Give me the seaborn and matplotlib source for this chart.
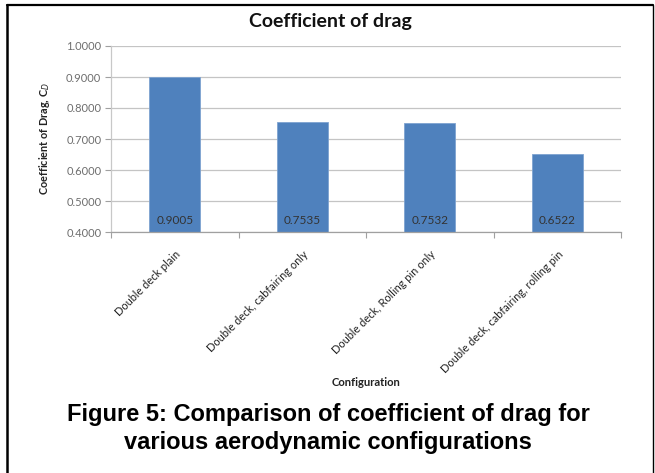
import matplotlib
matplotlib.use("Agg")
import matplotlib.pyplot as plt
from matplotlib.lines import Line2D
from matplotlib.ticker import FixedLocator, FormatStrFormatter
import seaborn as sns
import pandas as pd

# Drag coefficient for each aerodynamic configuration
configurations = [
    "Double deck plain",
    "Double deck, cabfairing only",
    "Double deck, Rolling pin only",
    "Double deck, cabfairing, rolling pin",
]
drag_coefficients = [0.9005, 0.7535, 0.7532, 0.6522]
y_ticks = [0.4, 0.5, 0.6, 0.7, 0.8, 0.9, 1.0]

df = pd.DataFrame({"Configuration": configurations, "Cd": drag_coefficients})

sns.set_theme(style="white")
plt.rcParams["font.family"] = ["Lato", "DejaVu Sans"]

W, H = 655, 473
fig = plt.figure(figsize=(W / 100, H / 100), dpi=100)
fig.patch.set_facecolor("white")

ax = fig.add_axes([111 / W, 1 - 232 / H, 510 / W, 186 / H])
sns.barplot(data=df, x="Configuration", y="Cd", color="#4F81BD",
            width=0.4, saturation=1, edgecolor="#7EA3D0", linewidth=0.6, ax=ax)

ax.set_ylim(0.4, 1.0)
ax.set_xlim(-0.5, len(configurations) - 0.5)
ax.yaxis.set_major_locator(FixedLocator(y_ticks))
ax.yaxis.set_major_formatter(FormatStrFormatter("%.4f"))
ax.grid(axis="y", color="#C4C4C4", linewidth=0.9)
ax.set_axisbelow(True)

for s in ["top", "right"]:
    ax.spines[s].set_visible(False)
ax.spines["left"].set_color("#C8C8C8")
ax.spines["bottom"].set_color("#A0A0A0")
ax.spines["left"].set_linewidth(0.9)
ax.spines["bottom"].set_linewidth(0.9)

ax.tick_params(axis="y", length=4, width=0.8, color="#A0A0A0", labelcolor="#6E6E6E",
               labelsize=8, pad=3, left=True)
ax.tick_params(axis="x", which="major", length=0, labelsize=7.9, pad=12,
               labelcolor="#222222")
ax.xaxis.set_minor_locator(FixedLocator([i - 0.5 for i in range(len(configurations) + 1)]))
ax.tick_params(axis="x", which="minor", length=4, width=0.8, color="#A0A0A0", bottom=True)
plt.setp(ax.get_xticklabels(), rotation=45, ha="right", va="top", rotation_mode="anchor")

ax.set_xlabel("")
ax.set_ylabel("Coefficient of Drag, C$_D$", fontsize=7.8, fontweight="bold",
              color="#222222")
ax.yaxis.set_label_coords((52 - 111) / 510, 0.5)

# value labels near the base of each bar
for i, v in enumerate(drag_coefficients):
    ax.text(i, 0.4 + 12 / 186 * 0.6, f"{v:.4f}", ha="center", va="center",
            fontsize=8.5, color="#333333")

fig.text(330 / W, 1 - 21 / H, "Coefficient of drag", ha="center", va="center",
         fontsize=14, fontweight="bold", color="#111111")
fig.text(366 / W, 1 - 383 / H, "Configuration", ha="center", va="center",
         fontsize=8.1, fontweight="bold", color="#222222")
fig.text(328 / W, 1 - 414 / H, "Figure 5: Comparison of coefficient of drag for",
         ha="center", va="center", fontsize=17, fontweight="bold",
         family=["Liberation Sans", "DejaVu Sans"], color="black")
fig.text(328 / W, 1 - 443 / H, "various aerodynamic configurations",
         ha="center", va="center", fontsize=17, fontweight="bold",
         family=["Liberation Sans", "DejaVu Sans"], color="black")

# page frame
fig.add_artist(Line2D([7 / W, 652.5 / W], [1 - 5 / H, 1 - 5 / H],
                      transform=fig.transFigure, color="black", linewidth=1.6))
fig.add_artist(Line2D([7 / W, 7 / W], [0, 1 - 5 / H],
                      transform=fig.transFigure, color="black", linewidth=1.8))
fig.add_artist(Line2D([652.5 / W, 652.5 / W], [0, 1 - 5 / H],
                      transform=fig.transFigure, color="black", linewidth=1.0))

fig.savefig("out.png", dpi=100, facecolor="white")
